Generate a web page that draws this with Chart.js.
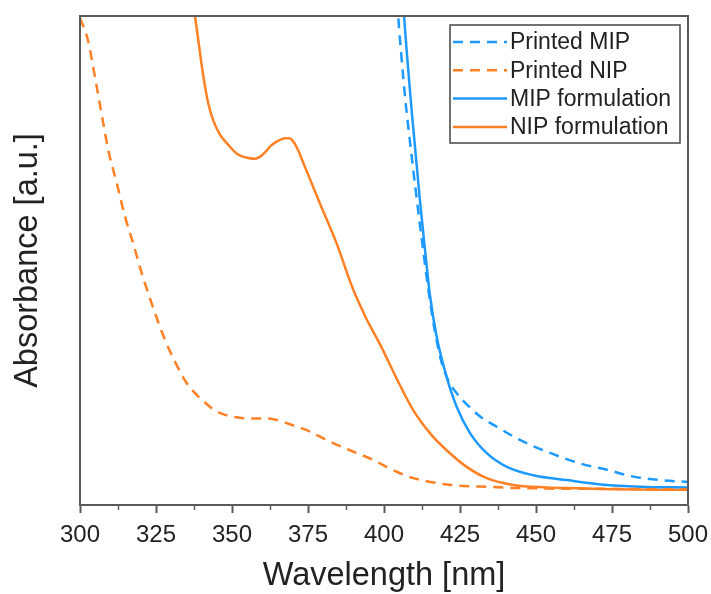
<!DOCTYPE html>
<html>
<head>
<meta charset="utf-8">
<script src="https://cdn.jsdelivr.net/npm/chart.js@4/dist/chart.umd.min.js"></script>
<style>
html,body{margin:0;padding:0;background:#fff;}
canvas{display:block;}
</style>
</head>
<body>
<canvas id="c" width="711" height="594"></canvas>
<script>
// ---- data ----
const xTickValues = [300, 325, 350, 375, 400, 425, 450, 475, 500];

const printedMipWl  = [404.5, 404.7, 405.7, 407.0, 408.6, 410.5, 412.5, 414.6, 416.6, 418.8, 421.2, 424, 426.1, 431.6, 437.1, 444.7, 452.4, 464.5, 473.3, 482.1, 490.8, 500];
const printedMipAbs = [1.03, 1.0, 0.92, 0.83, 0.74, 0.64, 0.54, 0.44, 0.36, 0.295, 0.254, 0.228, 0.213, 0.181, 0.16, 0.133, 0.112, 0.085, 0.072, 0.058, 0.051, 0.047];

const printedNipWl  = [300, 302.6, 304.9, 307.1, 309.3, 312.1, 314.8, 317.5, 320.3, 324.7, 328, 331.5, 335, 338.4, 341, 343.8, 347, 350, 352, 356, 361.4, 364, 366.9, 370, 374.6, 381.1, 388.8, 396.5, 400.9, 404.2, 408.6, 413, 417.3, 422, 426.1, 434.9, 442, 450, 460, 475, 490, 500];
const printedNipAbs = [0.996, 0.951, 0.876, 0.80, 0.726, 0.658, 0.59, 0.535, 0.474, 0.392, 0.337, 0.29, 0.25, 0.225, 0.21, 0.196, 0.186, 0.181, 0.179, 0.177, 0.177, 0.175, 0.17, 0.163, 0.153, 0.133, 0.112, 0.092, 0.078, 0.068, 0.057, 0.05, 0.045, 0.041, 0.039, 0.037, 0.035, 0.034, 0.033, 0.033, 0.032, 0.032];

const mipFormWl  = [406.3, 406.6, 409.2, 411.8, 413.5, 415.1, 417.3, 420.6, 423.9, 428.3, 433.8, 440.4, 449.1, 460.1, 473.3, 486.4, 500];
const mipFormAbs = [1.03, 1.0, 0.8, 0.624, 0.521, 0.43, 0.345, 0.262, 0.201, 0.147, 0.106, 0.078, 0.061, 0.051, 0.041, 0.037, 0.036];

const nipFormWl  = [337, 337.8, 340.6, 342.2, 343.8, 346.1, 348.3, 351.5, 355.9, 357.5, 359.2, 361, 362.5, 365, 367.4, 368.8, 370.2, 371.8, 373.5, 378.9, 384.4, 389.9, 394.3, 399, 404.2, 409.6, 415.1, 420.6, 427.2, 433.8, 442.5, 453.5, 465, 475.4, 490, 500];
const nipFormAbs = [1.03, 1.0, 0.876, 0.821, 0.787, 0.757, 0.74, 0.719, 0.709, 0.708, 0.712, 0.722, 0.733, 0.744, 0.75, 0.75, 0.743, 0.725, 0.699, 0.617, 0.535, 0.44, 0.38, 0.325, 0.258, 0.194, 0.147, 0.112, 0.078, 0.055, 0.041, 0.036, 0.034, 0.032, 0.031, 0.031];

const seriesLabels = ['Printed MIP', 'Printed NIP', 'MIP formulation', 'NIP formulation'];

// ---- styling ----
const BLUE = '#1e9aff';
const ORANGE = '#ff8126';
const AXIS = '#5a5a5a';
const TEXT = '#222222';
const FONT = "'Liberation Sans', Arial, sans-serif";
const DASH = [10, 7];

const pts = (xs, ys) => xs.map((x, i) => ({x: x, y: ys[i]}));

function ds(label, xs, ys, color, dashed) {
  return {
    label: label,
    data: pts(xs, ys),
    borderColor: color,
    backgroundColor: color,
    borderWidth: 2.5,
    borderDash: dashed ? DASH : [],
    pointRadius: 0,
    pointHoverRadius: 0,
    cubicInterpolationMode: 'monotone',
    tension: 0.4,
    fill: false
  };
}

const frameLegendPlugin = {
  id: 'frameLegend',
  afterDatasetsDraw(chart) {
    const ctx = chart.ctx;
    const a = chart.chartArea;
    const xs = chart.scales.x;
    ctx.save();
    // frame
    ctx.strokeStyle = AXIS;
    ctx.lineWidth = 2;
    ctx.setLineDash([]);
    ctx.strokeRect(a.left, a.top, a.right - a.left, a.bottom - a.top);
    // minor ticks between the major ticks
    ctx.lineWidth = 1.5;
    for (let i = 0; i < xTickValues.length - 1; i++) {
      const v = (xTickValues[i] + xTickValues[i + 1]) / 2;
      const px = Math.round(xs.getPixelForValue(v)) + 0.5;
      ctx.beginPath();
      ctx.moveTo(px, a.bottom);
      ctx.lineTo(px, a.bottom + 5);
      ctx.stroke();
    }
    // legend box
    const bx = a.right - 238, by = a.top + 9, bw = 230, bh = 118;
    ctx.fillStyle = '#fff';
    ctx.fillRect(bx, by, bw, bh);
    ctx.strokeStyle = '#444';
    ctx.lineWidth = 1.5;
    ctx.strokeRect(bx, by, bw, bh);
    ctx.font = '23px ' + FONT;
    ctx.textBaseline = 'middle';
    ctx.textAlign = 'left';
    chart.data.datasets.forEach((d, i) => {
      const yy = by + 17 + i * 28.3;
      ctx.strokeStyle = d.borderColor;
      ctx.lineWidth = 2.5;
      ctx.setLineDash(d.borderDash || []);
      ctx.beginPath();
      ctx.moveTo(bx + 3, yy);
      ctx.lineTo(bx + 57, yy);
      ctx.stroke();
      ctx.setLineDash([]);
      ctx.fillStyle = TEXT;
      ctx.fillText(d.label, bx + 60, yy + 1);
    });
    ctx.restore();
  }
};

new Chart(document.getElementById('c'), {
  type: 'line',
  data: {
    datasets: [
      ds(seriesLabels[0], printedMipWl, printedMipAbs, BLUE, true),
      ds(seriesLabels[1], printedNipWl, printedNipAbs, ORANGE, true),
      ds(seriesLabels[2], mipFormWl, mipFormAbs, BLUE, false),
      ds(seriesLabels[3], nipFormWl, nipFormAbs, ORANGE, false)
    ]
  },
  options: {
    responsive: false,
    animation: false,
    events: [],
    layout: { padding: { left: 0, top: 16, right: 23, bottom: 0 } },
    plugins: { legend: { display: false }, tooltip: { enabled: false } },
    scales: {
      x: {
        type: 'linear',
        min: 300,
        max: 500,
        afterBuildTicks(scale) { scale.ticks = xTickValues.map(v => ({ value: v })); },
        afterFit(scale) { scale.height = 89; scale.paddingRight = 0; scale.paddingLeft = 0; },
        ticks: {
          font: { family: FONT, size: 24 },
          color: TEXT,
          padding: 8,
          maxRotation: 0,
          autoSkip: false,
          callback: v => String(v)
        },
        grid: {
          drawOnChartArea: false,
          drawTicks: true,
          tickLength: 8,
          tickColor: AXIS,
          tickWidth: 2
        },
        border: { display: true, color: AXIS, width: 2 },
        title: {
          display: true,
          text: 'Wavelength [nm]',
          color: TEXT,
          font: { family: FONT, size: 32.5, lineHeight: 1 },
          padding: { top: 0, bottom: 2 }
        }
      },
      y: {
        type: 'linear',
        min: 0,
        max: 1,
        afterFit(scale) { scale.width = 80; },
        ticks: { display: false },
        grid: { display: false, drawTicks: false },
        border: { display: true, color: AXIS, width: 2 },
        title: {
          display: true,
          text: 'Absorbance [a.u.]',
          color: TEXT,
          font: { family: FONT, size: 32.5, lineHeight: 1 },
          padding: { top: 12, bottom: 0 }
        }
      }
    }
  },
  plugins: [frameLegendPlugin]
});
</script>
</body>
</html>
